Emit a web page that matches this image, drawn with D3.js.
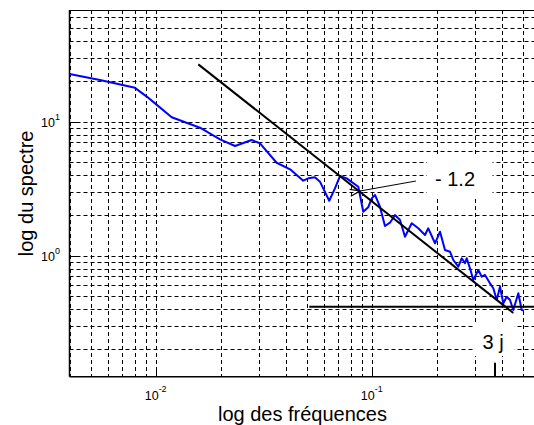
<!DOCTYPE html>
<html>
<head>
<meta charset="utf-8">
<script src="https://cdn.jsdelivr.net/npm/d3@7"></script>
<style>
  html, body { margin: 0; padding: 0; background: #fff; }
  svg { display: block; }
  text { font-family: "Liberation Sans", Arial, sans-serif; fill: #000; }
</style>
</head>
<body>
<svg id="chart" width="534" height="425"></svg>
<script>
// ---- data ----
const freq = [0.00399, 0.00552, 0.00802, 0.00909, 0.00993, 0.01186, 0.01603, 0.01985, 0.0233, 0.0278,
  0.0304, 0.0363, 0.0419, 0.0482, 0.0509, 0.0546, 0.0576, 0.0636, 0.0676, 0.0713,
  0.0766, 0.0867, 0.0914, 0.0964, 0.1, 0.1036, 0.1092, 0.1152, 0.1215, 0.1282,
  0.1352, 0.1426, 0.1532, 0.1643, 0.1765, 0.1828, 0.1964, 0.2072, 0.2184, 0.2304,
  0.2386, 0.2518, 0.2611, 0.2704, 0.2753, 0.2851, 0.2954, 0.3115, 0.3231, 0.3346,
  0.3529, 0.3656, 0.3792, 0.3926, 0.4067, 0.4217, 0.4368, 0.4523, 0.4773, 0.4948, 0.507];
const spectrum = [22.7, 20.5, 17.9, 15.4, 13.7, 10.8, 9.02, 7.39, 6.59, 7.30,
  6.90, 4.94, 4.41, 3.63, 3.78, 3.85, 3.57, 2.57, 3.18, 3.93,
  3.78, 3.27, 2.13, 2.30, 2.68, 2.84, 2.32, 1.666, 1.763, 2.01,
  1.847, 1.386, 1.745, 1.601, 1.427, 1.601, 1.238, 1.511, 1.103, 1.071,
  0.929, 0.828, 0.956, 0.878, 0.956, 0.805, 0.659, 0.782, 0.697, 0.718,
  0.622, 0.571, 0.467, 0.587, 0.441, 0.494, 0.467, 0.393, 0.524, 0.393, 0.389];
// fitted slope line (-1.2) and noise floor line
const slopeFreq = [0.01575, 0.4524];
const slopeVal = [26.8, 0.3736];
const floorFreq = [0.0514, 0.6];
const floorVal = [0.416, 0.416];
// axis ticks
const xMajorTicks = [0.01, 0.1];
const xTickExp = ["-2", "-1"];
const yMajorTicks = [1, 10];
const yTickExp = ["0", "1"];
const xLabel = "log des fréquences";
const yLabel = "log du spectre";
const slopeLabel = "- 1.2";
const periodLabel = "3 j";
const periodFreq = 0.3723;

// ---- layout ----
const svg = d3.select("#chart");
const L = 69.5, R = 536, T = 10, B = 376.7;
const x = d3.scaleLog().domain([0.00399, 0.5763]).range([L, R]);
const y = d3.scaleLog().domain([0.125, 68.2]).range([B, T]);

// grid values
const xGrid = [];
[0.001, 0.01, 0.1].forEach(d => { for (let k = 1; k <= 9; k++) { const v = d * k; if (v > 0.00399 && v < 0.5763) xGrid.push(v); } });
const yGrid = [];
[0.1, 1, 10].forEach(d => { for (let k = 1; k <= 9; k++) { const v = d * k; if (v > 0.125 && v < 68.2) yGrid.push(v); } });

const grid = svg.append("g").attr("stroke", "#000").attr("stroke-width", 1).attr("stroke-dasharray", "4,3");
grid.selectAll("line.gx").data(xGrid).join("line")
  .attr("x1", d => Math.round(x(d)) + 0.5).attr("x2", d => Math.round(x(d)) + 0.5)
  .attr("y1", T).attr("y2", B);
grid.selectAll("line.gy").data(yGrid).join("line")
  .attr("y1", d => Math.round(y(d)) + 0.5).attr("y2", d => Math.round(y(d)) + 0.5)
  .attr("x1", L).attr("x2", R);

// white boxes behind annotations
const boxes = [
  {f0: 0.1803, f1: 0.3624, v0: 5.55, v1: 2.74},
  {f0: 0.2976, f1: 0.4583, v0: 0.32, v1: 0.1785}
];
svg.selectAll("rect.box").data(boxes).join("rect")
  .attr("x", d => x(d.f0)).attr("y", d => y(d.v0))
  .attr("width", d => x(d.f1) - x(d.f0)).attr("height", d => y(d.v1) - y(d.v0))
  .attr("fill", "#fff");

// axes box
svg.append("line").attr("x1", L).attr("x2", R).attr("y1", T + 0.5).attr("y2", T + 0.5).attr("stroke", "#000").attr("stroke-width", 1.2);
svg.append("line").attr("x1", L).attr("x2", R).attr("y1", B).attr("y2", B).attr("stroke", "#000").attr("stroke-width", 1.5);
svg.append("line").attr("x1", L).attr("x2", L).attr("y1", T).attr("y2", B).attr("stroke", "#000").attr("stroke-width", 1.5);

// major ticks (inside)
svg.selectAll("line.xt").data(xMajorTicks).join("line")
  .attr("x1", d => Math.round(x(d)) + 0.5).attr("x2", d => Math.round(x(d)) + 0.5)
  .attr("y1", B).attr("y2", B - 8).attr("stroke", "#000");
svg.selectAll("line.yt").data(yMajorTicks).join("line")
  .attr("y1", d => Math.round(y(d)) + 0.5).attr("y2", d => Math.round(y(d)) + 0.5)
  .attr("x1", L).attr("x2", L + 8).attr("stroke", "#000");

// tick labels
const xt = svg.selectAll("text.xtl").data(xMajorTicks).join("text")
  .attr("class", "xtl")
  .attr("x", d => x(d)).attr("y", 399.5)
  .attr("text-anchor", "middle").style("font-size", "12.5px").attr("fill", "#1a1a2a");
xt.append("tspan").text("10");
xt.append("tspan").attr("dy", -8).style("font-size", "9px").text((d, i) => xTickExp[i]);

const yt = svg.selectAll("text.ytl").data(yMajorTicks).join("text")
  .attr("class", "ytl")
  .attr("x", 60).attr("y", d => y(d) + 5)
  .attr("text-anchor", "end").style("font-size", "12.5px").attr("fill", "#1a1a2a");
yt.append("tspan").text("10");
yt.append("tspan").attr("dy", -7).style("font-size", "9px").text((d, i) => yTickExp[i]);

// axis labels
svg.append("text").attr("x", 302.5).attr("y", 421).attr("text-anchor", "middle")
  .style("font-size", "20px").text(xLabel);
svg.append("text").attr("transform", "translate(33,193.4) rotate(-90)").attr("text-anchor", "middle")
  .style("font-size", "20px").text(yLabel);

// data line
const pts = freq.map((f, i) => [f, spectrum[i]]);
const line = d3.line().x(d => x(d[0])).y(d => y(d[1]));
svg.append("path").datum(pts).attr("d", line)
  .attr("fill", "none").attr("stroke", "#0000ff").attr("stroke-width", 2).attr("stroke-linejoin", "round");

// slope and floor lines
svg.append("path").datum(slopeFreq.map((f, i) => [f, slopeVal[i]])).attr("d", line)
  .attr("fill", "none").attr("stroke", "#000").attr("stroke-width", 2);
svg.append("path").datum(floorFreq.map((f, i) => [f, floorVal[i]])).attr("d", line)
  .attr("fill", "none").attr("stroke", "#000").attr("stroke-width", 2);

// arrow to slope line
svg.append("defs").append("marker").attr("id", "arr")
  .attr("viewBox", "-1 -5 12 10").attr("refX", 0).attr("refY", 0)
  .attr("markerWidth", 12).attr("markerHeight", 10).attr("markerUnits", "userSpaceOnUse")
  .attr("orient", "auto-start-reverse")
  .append("path").attr("d", "M10,-3.5 L0,0 L10,3.5").attr("fill", "none").attr("stroke", "#000").attr("stroke-width", 1.2);
svg.append("line")
  .attr("x1", x(0.1603)).attr("y1", y(3.61))
  .attr("x2", x(0.0883)).attr("y2", y(3.04))
  .attr("stroke", "#000").attr("stroke-width", 1).attr("marker-end", "url(#arr)");

// annotations
svg.append("text").attr("x", x(0.1964)).attr("y", y(3.31))
  .style("font-size", "20px").text(slopeLabel);
svg.append("text").attr("x", x(0.326)).attr("y", y(0.2))
  .style("font-size", "20px").text(periodLabel);
svg.append("line").attr("x1", x(periodFreq)).attr("x2", x(periodFreq))
  .attr("y1", y(0.159)).attr("y2", B).attr("stroke", "#000").attr("stroke-width", 2);
</script>
</body>
</html>
